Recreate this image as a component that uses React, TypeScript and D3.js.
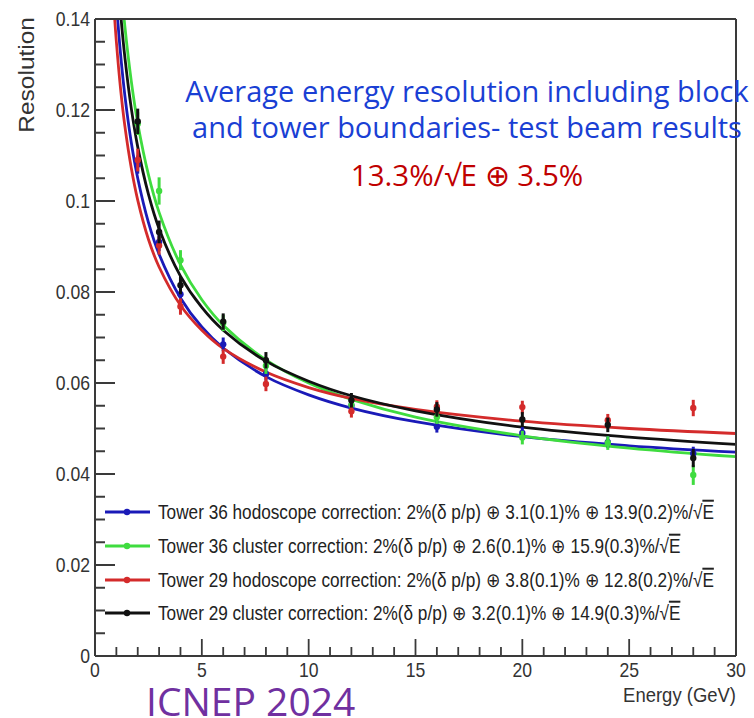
import React from "react";
import * as d3 from "d3";

// ---------- data ----------
const energies = [2, 3, 4, 6, 8, 12, 16, 20, 24, 28];

const blueValues = [0.108, 0.091, 0.0795, 0.0685, 0.062, 0.055, 0.0504, 0.049, 0.047, 0.0445];
const greenValues = [0.117, 0.1022, 0.087, 0.0732, 0.0638, 0.0552, 0.0525, 0.048, 0.0468, 0.0398];
const redValues = [0.109, 0.0902, 0.0768, 0.0658, 0.0598, 0.0538, 0.0548, 0.0547, 0.0518, 0.0545];
const blackValues = [0.1175, 0.0932, 0.0815, 0.0735, 0.065, 0.0562, 0.0542, 0.052, 0.0508, 0.0435];

const blueErrors = [0.002, 0.002, 0.0018, 0.0015, 0.0015, 0.0013, 0.0013, 0.0013, 0.0013, 0.0015];
const greenErrors = [0.0025, 0.003, 0.0022, 0.0018, 0.0018, 0.0015, 0.0015, 0.0015, 0.0015, 0.0022];
const redErrors = [0.0025, 0.002, 0.0018, 0.0016, 0.0016, 0.0014, 0.0014, 0.0014, 0.0014, 0.0018];
const blackErrors = [0.0028, 0.0025, 0.002, 0.0018, 0.0018, 0.0016, 0.0016, 0.0016, 0.0016, 0.002];

// fitted curves read at these energies
const fitEnergies = [0.9, 1, 1.2, 1.4, 1.7, 2, 2.5, 3, 4, 5, 6, 8, 10, 12, 15, 20, 25, 30];
const blueFit = [0.1511, 0.1438, 0.1321, 0.1231, 0.1128, 0.105, 0.0953, 0.0883, 0.0787, 0.0723, 0.0677, 0.0614, 0.0574, 0.0545, 0.0515, 0.0482, 0.0462, 0.0448];
const greenFit = [0.1708, 0.1623, 0.1488, 0.1383, 0.1263, 0.1171, 0.1058, 0.0975, 0.086, 0.0783, 0.0727, 0.0651, 0.06, 0.0564, 0.0525, 0.0484, 0.0457, 0.0438];
const redFit = [0.1416, 0.135, 0.1245, 0.1164, 0.1072, 0.1002, 0.0916, 0.0855, 0.0771, 0.0716, 0.0676, 0.0624, 0.059, 0.0566, 0.0542, 0.0516, 0.05, 0.0489];
const blackFit = [0.1615, 0.1537, 0.1412, 0.1315, 0.1203, 0.1119, 0.1015, 0.0939, 0.0835, 0.0766, 0.0716, 0.0648, 0.0604, 0.0572, 0.0539, 0.0503, 0.0481, 0.0465];

const seriesNames = [
  "Tower 36 hodoscope correction: 2%(δ p/p) ⊕ 3.1(0.1)% ⊕ 13.9(0.2)%/√",
  "Tower 36 cluster correction: 2%(δ p/p) ⊕ 2.6(0.1)% ⊕ 15.9(0.3)%/√",
  "Tower 29 hodoscope correction: 2%(δ p/p) ⊕ 3.8(0.1)% ⊕ 12.8(0.2)%/√",
  "Tower 29 cluster correction: 2%(δ p/p) ⊕ 3.2(0.1)% ⊕ 14.9(0.3)%/√",
];
const seriesColors = ["#1a1ab8", "#3fdc3f", "#d42b2b", "#111111"];

const xTickLabels = ["0", "5", "10", "15", "20", "25", "30"];
const yTickLabels = ["0", "0.02", "0.04", "0.06", "0.08", "0.1", "0.12", "0.14"];

const titleLines = ["Average energy resolution including block", "and tower boundaries- test beam results"];
const formulaText = "13.3%/√E ⊕ 3.5%";
const footerText = "ICNEP 2024";

// ---------- chart ----------
const W = 754;
const H = 718;
const left = 95;
const right = 736;
const top = 19;
const bottom = 656;

export default function App() {
  const x = d3.scaleLinear().domain([0, 30]).range([left, right]);
  const y = d3.scaleLinear().domain([0, 0.14]).range([bottom, top]);

  const series = [
    { values: blueValues, errors: blueErrors, fit: blueFit },
    { values: greenValues, errors: greenErrors, fit: greenFit },
    { values: redValues, errors: redErrors, fit: redFit },
    { values: blackValues, errors: blackErrors, fit: blackFit },
  ];

  const line = d3
    .line<number>()
    .x((_, i) => x(fitEnergies[i]))
    .y((d) => y(d))
    .curve(d3.curveCatmullRom.alpha(0.5));

  const xMinor = d3.range(0, 31, 1);
  const yMinor = d3.range(0, 0.14001, 0.005);
  const axisColor = "#3a3a3a";
  const labelFont = "'Liberation Sans', Arial, Helvetica, sans-serif";
  const sx = 0.88;

  const legendY = [512, 546, 580, 613];

  return (
    <svg
      width={W}
      height={H}
      style={{ position: "absolute", left: 0, top: 0, background: "#fff" }}
    >
      <defs>
        <clipPath id="plotClip">
          <rect x={left} y={top} width={right - left} height={bottom - top} />
        </clipPath>
      </defs>
      <rect x={0} y={0} width={W} height={H} fill="#fff" />

      {/* fits */}
      <g clipPath="url(#plotClip)">
        {series.map((s, k) => (
          <path key={k} d={line(s.fit) || ""} fill="none" stroke={seriesColors[k]} strokeWidth={2.8} />
        ))}
      </g>

      {/* points */}
      {series.map((s, k) => (
        <g key={k}>
          {s.values.map((v, i) => (
            <g key={i}>
              <line
                x1={x(energies[i])}
                x2={x(energies[i])}
                y1={y(v - s.errors[i])}
                y2={y(v + s.errors[i])}
                stroke={seriesColors[k]}
                strokeWidth={3}
              />
              <circle cx={x(energies[i])} cy={y(v)} r={3.2} fill={seriesColors[k]} />
            </g>
          ))}
        </g>
      ))}

      {/* frame */}
      <g stroke={axisColor} fill="none">
        <line x1={left} x2={left} y1={top} y2={bottom} strokeWidth={2} />
        <line x1={left} x2={right} y1={bottom} y2={bottom} strokeWidth={2} />
        <line x1={left} x2={right} y1={top} y2={top} strokeWidth={2} />
        <line x1={right} x2={right} y1={top} y2={bottom} strokeWidth={2} />
        {yMinor.map((v, i) => (
          <line key={"ym" + i} x1={left} x2={left + (i % 4 === 0 ? 20 : 10)} y1={y(v)} y2={y(v)} strokeWidth={2} />
        ))}
        {xMinor.map((v, i) => (
          <line key={"xm" + i} x1={x(v)} x2={x(v)} y1={bottom} y2={bottom - (i % 5 === 0 ? 17 : 9)} strokeWidth={1.8} />
        ))}
      </g>

      {/* y tick labels */}
      {yTickLabels.map((t, i) => (
        <text
          key={"yl" + i}
          transform={`translate(${left - 5},${y(+t) + 7}) scale(${sx},1)`}
          textAnchor="end"
          fontFamily={labelFont}
          fontSize={20}
          fill="#333"
        >
          {t}
        </text>
      ))}

      {/* x tick labels */}
      {xTickLabels.map((t, i) => (
        <text
          key={"xl" + i}
          transform={`translate(${x(+t)},${bottom + 21}) scale(${sx},1)`}
          textAnchor="middle"
          fontFamily={labelFont}
          fontSize={20}
          fill="#333"
        >
          {t}
        </text>
      ))}

      {/* axis titles */}
      <text
        transform={`translate(${right},${bottom + 46}) scale(${sx},1)`}
        textAnchor="end"
        fontFamily={labelFont}
        fontSize={21}
        fill="#333"
      >
        Energy (GeV)
      </text>
      <text
        transform={`translate(34,${top - 2}) rotate(-90) scale(1,${sx})`}
        textAnchor="end"
        fontFamily={labelFont}
        fontSize={24.5}
        fill="#333"
      >
        Resolution
      </text>

      {/* legend */}
      {seriesNames.map((name, k) => (
        <g key={"lg" + k}>
          <line x1={105} x2={150} y1={legendY[k]} y2={legendY[k]} stroke={seriesColors[k]} strokeWidth={3} />
          <circle cx={127} cy={legendY[k]} r={3.2} fill={seriesColors[k]} />
          <text
            transform={`translate(158,${legendY[k] + 7}) scale(0.86,1)`}
            fontFamily={labelFont}
            fontSize={20}
            fill="#222"
          >
            {name}
            <tspan style={{ textDecoration: "overline" }}>E</tspan>
          </text>
        </g>
      ))}

      {/* annotations */}
      {titleLines.map((t, i) => (
        <text
          key={"tl" + i}
          x={467}
          y={102 + i * 36}
          textAnchor="middle"
          fontFamily="'Open Sans', sans-serif"
          fontSize={29}
          fill="#1a3fd4"
        >
          {t}
        </text>
      ))}
      <text
        x={467}
        y={186}
        textAnchor="middle"
        fontFamily="'Open Sans', sans-serif"
        fontSize={29.5}
        fill="#c00000"
      >
        {formulaText}
      </text>
      <text x={146} y={716} fontFamily="'Open Sans', sans-serif" fontSize={39} fill="#7030a0">
        {footerText}
      </text>
    </svg>
  );
}
